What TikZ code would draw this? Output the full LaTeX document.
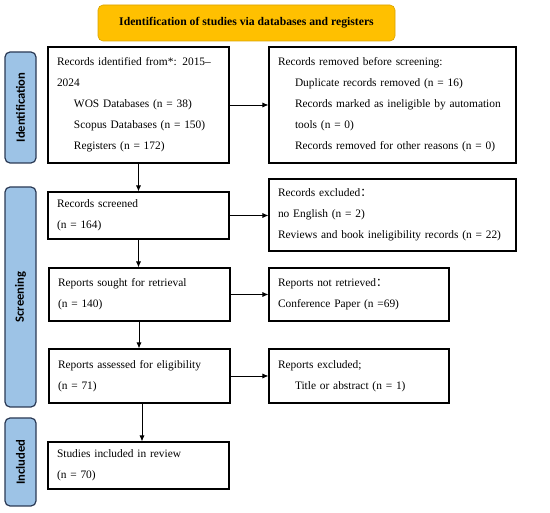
\documentclass[tikz,border=0pt]{standalone}
\usepackage{fontspec}
\setmainfont{Liberation Serif}
\newfontfamily\phasefont{Carlito}
\newfontfamily\cjk{Noto Sans CJK SC}
\usetikzlibrary{arrows.meta}
\definecolor{titlefill}{HTML}{FFC000}
\definecolor{titledraw}{HTML}{D9A300}
\definecolor{phasefill}{HTML}{9DC3E6}
\definecolor{phasedraw}{HTML}{2B3A55}
\begin{document}
\begin{tikzpicture}[x=1pt,y=-1pt,
  box/.style={draw=black,line width=1.1pt,fill=white,inner xsep=9pt,inner ysep=2pt,
    align=left,font=\fontsize{11.4}{21}\selectfont},
  titlebox/.style={draw=titledraw,fill=titlefill,rounded corners=5pt,line width=0.6pt,
    font=\bfseries\fontsize{11.7}{13}\selectfont},
  phase/.style={draw=phasedraw,fill=phasefill,rounded corners=5pt,line width=1.2pt,
    minimum width=31pt,inner sep=0pt},
  phasetext/.style={rotate=90,font=\phasefont\bfseries\fontsize{12.6}{14}\selectfont},
  arr/.style={-{Latex[length=6pt,width=5pt]},line width=0.8pt}]
\useasboundingbox (0,0) rectangle (550,513);
\node[titlebox,minimum width=297pt,minimum height=36pt] (title) at (246.5,23)
  {Identification of studies via databases and registers};
\node[phase,minimum height=111pt] (pid) at (20.5,107.5) {};
\node[phasetext] (pidt) at (pid.center) {Identification};
\node[phase,minimum height=220pt] (psc) at (20.5,297) {};
\node[phasetext] (psct) at (psc.center) {Screening};
\node[phase,minimum height=88pt] (pin) at (20.5,462) {};
\node[phasetext] (pint) at (pin.center) {Included};
\node[box,text width=163pt,minimum height=116pt] (b1) at (138.5,105)
  {\makebox[163pt][s]{Records identified from*: 2015–}\\2024\\
   \hspace*{17pt}WOS Databases (n = 38)\\
   \hspace*{17pt}Scopus Databases (n = 150)\\
   \hspace*{17pt}Registers (n = 172)};
\node[box,text width=229pt,minimum height=116pt] (b2) at (392.5,105)
  {Records removed before screening:\\
   \hspace*{17pt}Duplicate records removed (n = 16)\\
   \hspace*{17pt}Records marked as ineligible by automation\\
   \hspace*{17pt}tools (n = 0)\\
   \hspace*{17pt}Records removed for other reasons (n = 0)};
\node[box,text width=163pt,minimum height=47pt] (b3) at (138.5,215.5)
  {Records screened\\(n = 164)};
\node[box,text width=229pt,minimum height=72pt] (b4) at (392.5,215)
  {Records excluded{\cjk ：}\\no English (n = 2)\\Reviews and book ineligibility records (n = 22)};
\node[box,text width=162pt,minimum height=53pt] (b6) at (359,294.5)
  {Reports not retrieved{\cjk ：}\\Conference Paper (n =69)};
\node[box,text width=163pt,minimum height=53pt] (b5) at (139.5,294.5)
  {Reports sought for retrieval\\(n = 140)};
\node[box,text width=163pt,minimum height=54pt] (b7) at (139.5,376)
  {Reports assessed for eligibility\\(n = 71)};
\node[box,text width=162pt,minimum height=54pt] (b8) at (359,376)
  {Reports excluded;\\\hspace*{17pt}Title or abstract (n = 1)};
\node[box,text width=163pt,minimum height=47pt] (b9) at (138.5,465.5)
  {Studies included in review\\(n = 70)};
\draw[arr] (b1.east) -- (b1.east -| b2.west);
\draw[arr] (b3.east) -- (b3.east -| b4.west);
\draw[arr] (b5.east) -- (b5.east -| b6.west);
\draw[arr] (b7.east) -- (b7.east -| b8.west);
\draw[arr] (b1.south) -- (b1.south |- b3.north);
\draw[arr] (b3.south) -- (b3.south |- b5.north);
\draw[arr] ([xshift=-0.5pt]b5.south) -- ([xshift=-0.5pt]b5.south |- b7.north);
\draw[arr] ([xshift=2.5pt]b7.south) -- ([xshift=2.5pt]b7.south |- b9.north);
\end{tikzpicture}
\end{document}
